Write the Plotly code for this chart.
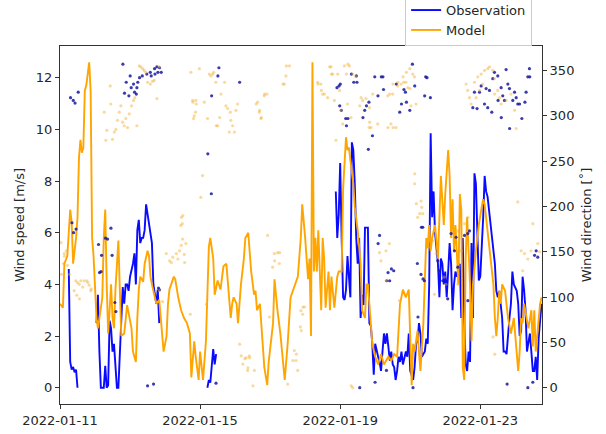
import pandas as pd
import plotly.graph_objects as go

START = pd.Timestamp("2022-01-11 00:00")

# Model wind speed [m/s] (hours since start, value)
model_hours = [0, 2, 3, 5, 7, 8, 9, 10, 11, 12, 13, 14, 15, 16, 17, 18, 19, 20, 21, 22, 23, 24, 25, 26, 28, 29, 30, 31, 32, 33, 34, 35, 36, 37, 38, 39, 40, 41, 42, 44, 45, 46, 47, 49, 50, 52, 53, 54, 55, 57, 58, 60, 61, 62, 63, 65, 66, 68, 69, 70, 71, 73, 74, 75, 76, 78, 79, 81, 83, 85, 87, 89, 90, 92, 93, 95, 96, 98, 100, 102, 103, 105, 106, 108, 110, 112, 114, 115, 117, 118, 119, 121, 122, 124, 126, 127, 129, 131, 133, 134, 135, 137, 138, 140, 142, 143, 146, 147, 149, 151, 154, 156, 158, 161, 163, 165, 166, 168, 170, 171, 172, 173, 174, 175, 176, 177, 178, 179, 180, 181, 182, 184, 185, 186, 188, 190, 191, 193, 194, 196, 197, 198, 199, 201, 202, 204, 206, 207, 209, 210, 211, 213, 214, 216, 218, 220, 222, 225, 227, 229, 231, 233, 235, 237, 239, 241, 242, 243, 245, 246, 247, 249, 250, 251, 252, 253, 254, 255, 257, 258, 259, 261, 262, 263, 264, 266, 267, 268, 269, 270, 271, 273, 274, 275, 276, 277, 278, 279, 281, 282, 283, 284, 285, 286, 287, 289, 290, 291, 292, 293, 294, 295, 297, 298, 299, 300, 301, 302, 303, 305, 306, 307, 309, 311, 314, 315, 316, 317, 318, 321, 323, 324, 325, 326, 327, 329, 330]
model_speed = [3.25, 3.1, 4.8, 5.1, 6.9, 6.4, 4.8, 5.3, 5.8, 6.6, 8.9, 9.6, 9.1, 9.3, 11.5, 11.7, 12.3, 12.6, 11.5, 5.8, 5.1, 4.0, 2.7, 2.3, 3.2, 3.5, 5.8, 6.9, 4.0, 2.1, 3.0, 4.0, 2.7, 2.3, 3.8, 5.0, 5.7, 3.8, 2.0, 2.1, 2.7, 3.2, 2.9, 2.3, 1.4, 1.0, 2.7, 3.8, 4.3, 4.1, 4.8, 5.3, 5.1, 4.3, 4.0, 3.5, 3.25, 3.4, 2.7, 2.0, 1.4, 2.0, 3.25, 3.8, 4.0, 4.3, 4.2, 3.5, 3.0, 2.7, 2.5, 2.1, 0.4, 1.8, 1.2, 0.3, 1.4, 0.3, 1.8, 5.45, 5.8, 5.0, 3.6, 4.15, 3.8, 4.7, 4.8, 4.0, 2.7, 3.25, 3.5, 3.25, 2.5, 4.0, 5.0, 5.8, 6.0, 4.5, 3.6, 3.75, 3.0, 3.25, 2.3, 0.8, 0.1, 1.0, 2.5, 4.2, 3.0, 2.1, 0.3, 1.7, 3.5, 4.0, 4.3, 5.8, 7.1, 5.8, 4.2, 5.0, 2.0, 12.6, 4.5, 5.8, 4.5, 6.1, 4.3, 3.0, 5.8, 5.0, 3.1, 4.5, 3.0, 4.3, 3.1, 4.3, 4.5, 4.5, 7.7, 9.7, 9.2, 9.3, 8.8, 7.9, 7.0, 6.1, 4.8, 3.0, 2.7, 4.0, 4.0, 2.5, 1.7, 1.2, 0.9, 1.3, 0.9, 1.2, 1.05, 1.3, 1.2, 3.25, 3.8, 3.5, 3.8, 0.1, 1.7, 1.4, 2.2, 1.4, 0.65, 2.5, 4.7, 5.8, 5.4, 6.3, 5.3, 5.8, 6.3, 5.6, 5.0, 8.2, 7.3, 6.3, 7.5, 9.2, 8.2, 5.8, 7.3, 5.3, 6.3, 4.0, 7.5, 6.9, 0.8, 0.3, 5.0, 6.6, 4.0, 1.8, 4.0, 4.8, 5.3, 5.8, 6.3, 7.0, 7.3, 7.1, 6.6, 6.1, 5.6, 5.0, 4.0, 2.7, 2.0, 2.7, 3.75, 3.25, 4.0, 3.75, 3.25, 2.7, 2.1, 2.7, 0.65, 1.4, 2.7, 2.5, 3.25, 2.3, 3.0, 1.6, 3.0, 1.4, 2.0, 3.25, 3.5]

# Observed wind speed [m/s] (None = missing data)
obs_hours = [6, 7, 8, 9, 10, 11, 12, 13,
             25, 26, 27, 28, 29, 30, 31, 32, 33, 34, 35, 36, 37, 38, 39, 40, 41, 42, 43, 44, 45, 46, 47, 48, 49, 50, 51, 52, 53, 54, 55, 56, 57, 58, 59, 60, 61, 62, 63, 64, 65, 66, 67, 68, 69,
             101, 102, 103, 104, 105, 106, 107, 108,
             189, 190, 191, 192, 193, 194, 195, 196, 197, 198, 199, 200, 201, 202, 203, 204, 205, 206, 207, 208, 209, 210, 211, 212, 213, 214, 215, 216, 217, 218, 219, 220, 221, 222, 223, 224, 225, 226, 227, 228, 229, 230, 231, 232, 233, 234, 235, 236, 237, 238, 239, 240, 241, 242, 243, 244, 245, 246, 247, 248, 249, 250, 251, 252, 253, 254, 255, 256, 257, 258, 259, 260, 261, 262, 263, 264, 265, 266, 267, 268, 269, 270, 271, 272, 273, 274, 275, 276, 277, 278, 279, 280, 281, 282, 283, 284, 285, 286, 287, 288, 289, 290, 291, 292, 293, 294, 295, 296, 297, 298, 299, 300, 301, 302, 303, 304, 305, 306, 307, 308, 309, 310, 311, 312, 313, 314, 315, 316, 317, 318, 319, 320, 321, 322, 323, 324, 325, 326, 327, 328, 329, 330]
obs_speed = [4.6, 1.0, 0.7, 0.8, 0.6, 0.7, 0.0, None,
             2.5, 3.6, 1.4, 0, 0, 0, 0.85, 0, 0.1, 2.6, 2.3, 1.4, 1.7, 0.8, 0, 0, 1.4, 3.0, 3.9, 3.25, 4.0, 4.0, 3.75, 4.3, 4.5, 4.8, 5.2, 4.0, 6.1, 6.5, 5.6, 5.8, 5.8, 6.1, 7.1, 6.7, 6.2, 6.0, 5.6, 4.0, 3.6, 3.25, 3.8, 2.5, None,
             0, 0.3, 0.2, 0.8, 1.5, 0.9, 1.3, None,
             7.6, 5.8, 6.7, 8.7, 5.8, 3.5, 3.4, 3.8, 5.1, 4.2, 3.5, 9.5, 9.2, 7.9, 5.8, 4.8, 5.8, 2.7, 3.6, 3.2, 6.2, 6.2, 6.2, 2.5, 2.4, 1.7, 0.5, 1.7, 1.4, 1.2, 1.0, 0.65, 1.4, 2.1, 1.7, 2.1, 1.6, 1.05, 1.4, 0.9, 0.8, 0.3, 0.65, 1.2, 1.0, 1.4, 0.9, 1.2, 1.4, 1.2, 2.1, 0.65, 0.5, 0.3, 0.8, 1.7, 1.8, 2.5, 2.1, 1.2, 1.3, 1.4, 1.9, 1.7, 4.0, 9.85, 6.6, 7.6, 6.0, 5.3, 4.8, 3.5, 5.0, 4.8, 4.0, 4.5, 3.5, 4.5, 5.6, 4.8, 3.0, 4.0, 4.5, 4.3, 4.5, 4.8, 2.7, 5.8, 2.7, 0.9, 0.65, 1.4, 1.0, 5.6, 2.7, 8.3, 7.9, 5.8, 4.15, 4.3, 5.3, 6.6, 8.2, 7.6, 7.4, 6.9, 6.2, 5.8, 5.3, 4.8, 3.75, 3.5, 3.75, 3.25, 2.7, 1.4, 1.4, 1.3, 2.2, 2.7, 3.25, 4.5, 4.0, 3.9, 3.75, 3.25, 2.0, 2.2, 4.3, 3.8, 3.0, 1.4, 1.8, 2.1, 1.4, 0.65, 0.65, 1.2, 0.3, 1.9, 2.6, 3.25]

# Observed wind direction [deg]
obs_dir_hours = [7.2, 8.2, 9.1, 9.3, 10.3, 11.0, 12.5,
                 43.1, 44.2, 45.4, 47.2, 48.1, 48.8, 50.4, 51.1, 52.3, 52.7, 53.3, 54.5, 56.4, 59.5, 61.9, 62.5, 64.8, 65.1, 66.4, 67.1, 68.2, 69.4,
                 26.4, 27.1, 28.1, 28.5, 31.2, 32.6, 34.9, 35.7, 37.6, 38.3, 60.0, 64.1, 67.5, 68.2,
                 101.3, 103.7, 103.9, 106.9, 108.2, 108.9, 123.1,
                 189.8, 191.2, 191.7, 192.1, 192.8, 195.8, 196.3, 197.3, 199.7, 201.3, 203.1, 203.5, 207.6, 208.8, 210.0, 211.3, 211.7, 214.1, 215.7, 217.9, 220.2, 221.3, 221.7, 230.5, 232.8, 234.0, 235.7, 236.7, 237.4, 239.7, 241.5, 243.1, 249.9, 250.6, 251.5, 253.8,
                 205.4, 215.9, 218.0, 219.0, 223.7, 223.9, 224.8, 225.9, 227.1, 228.7, 241.9, 244.9, 245.3, 247.7, 248.8,
                 282.9, 284.0, 285.8, 287.5, 288.6, 290.9, 292.0, 293.1, 294.3, 295.9, 296.6, 297.7, 300.0, 300.2, 302.3, 302.4, 303.4, 304.6, 305.7, 306.9, 308.0, 308.1, 310.3, 311.5, 312.6, 313.7, 314.9, 316.5, 318.6, 319.4, 320.6, 321.7, 321.9,
                 247.4, 248.6, 249.7, 258.9, 260.0, 262.3, 265.7, 268.0, 270.3, 271.4, 272.6, 277.2, 279.4, 279.5, 280.6, 306.4, 320.6, 324.0, 325.2, 326.3, 327.4]
obs_dir = [320, 182, 317, 171, 314, 175, 326,
           357, 325, 337, 322, 344, 331, 335, 326, 324, 331, 337, 342, 344, 346, 348, 344, 352, 346, 354, 348, 353, 348,
           158, 127, 128, 146, 165, 164, 176, 146, 94, 84, 2, 4, 110, 108,
           258, 214, 322, 5, 344, 353, 337,
           331, 333, 311, 335, 306, 297, 289, 297, 346, 337, 344, 337, 298, 306, 311, 263, 315, 278, 343, 322, 343, 343, 329, 335, 304, 313, 329, 326, 315, 306, 357, 333, 322, 343, 342, 320,
           0, 6, 159, 168, 19, 118, 127, 118, 131, 129, 0, 137, 78, 177, 120,
           309, 326, 308, 326, 333, 313, 330, 309, 328, 304, 341, 348, 344, 317, 331, 298, 322, 317, 351, 335, 330, 286, 317, 326, 320, 313, 313, 297, 315, 326, 343, 352, 343,
           125, 177, 118, 140, 129, 118, 98, 170, 151, 166, 133, 168, 170, 96, 173, 4, 0, 6, 146, 151, 144]

# Model wind direction [deg]
model_dir_hours = [0.7, 1.0, 2.4, 2.9, 3.1, 4.3, 5.1, 6.5, 9.7, 10.8, 11.5, 12.0, 13.2, 13.3, 14.3, 15.6, 16.6, 18.4, 19.1, 20.0, 21.1, 21.4,
                   30.3, 31.4, 32.1, 34.4, 34.8, 36.0, 37.2, 38.3, 39.4, 40.6, 41.7, 42.9, 44.0, 45.1, 46.3, 47.5, 49.0, 50.4, 51.3, 52.7, 54.3, 55.4, 56.6, 57.7, 58.8, 60.0, 61.9, 63.4, 64.6, 66.4, 68.0,
                   68.2, 70.3, 72.8, 75.1, 76.3, 77.3, 79.7, 80.8, 81.9, 82.8, 83.1, 83.3, 83.8, 84.0, 84.2, 85.2, 85.4, 86.3, 89.3, 89.7, 90.9, 91.1, 91.5, 92.0, 92.9, 93.1, 93.4, 95.5,
                   96.5, 97.7, 98.9, 100.3, 101.1, 102.3, 103.4, 104.6, 105.3, 106.8, 107.1, 108.0, 109.4, 110.3, 112.8, 113.7, 114.9, 116.0, 116.7, 117.1, 118.3, 119.5, 120.6, 121.7,
                   123.1, 124.2, 125.3, 126.7, 127.6, 128.6, 128.8, 129.7, 129.9, 132.2, 133.2, 134.5, 135.4, 136.6, 136.8, 137.7, 138.0, 140.0, 140.2, 141.8, 142.3, 143.5, 145.7, 146.9, 147.1, 149.1, 150.3, 150.5, 152.8, 153.7, 154.8, 155.1, 156.0, 157.2, 159.6, 160.6, 161.7, 162.0, 162.9, 165.1, 165.3, 166.5,
                   164.7, 166.3, 167.5, 172.0, 176.6, 176.8, 178.8, 179.1, 180.0, 181.2, 183.4, 184.8, 185.7, 186.0, 186.9, 188.0, 189.1, 190.3, 191.6, 192.5, 193.7, 194.9, 196.3, 197.1, 197.3, 198.3, 199.4, 199.5, 200.6, 200.7, 202.8, 205.4, 206.3, 207.4, 209.7, 211.8, 212.0, 212.2, 213.1, 214.3, 217.7, 218.9, 220.0, 223.4, 223.5, 224.6, 224.7, 225.7, 225.9, 226.8, 228.0, 228.2, 228.3, 230.3, 231.4, 231.6, 232.6, 233.7, 235.1, 235.5, 237.1, 237.4, 238.3, 239.7, 239.8, 240.5, 241.7, 242.9, 243.0, 243.1, 244.0, 244.2, 245.1, 246.5, 247.4, 247.9, 248.6,
                   253.2, 255.4, 256.6, 257.7, 263.4, 264.5, 272.6, 272.7, 274.8, 277.2, 278.3, 279.4, 279.5, 280.6, 281.7, 284.0, 285.1, 286.3, 287.5, 288.6, 289.7, 290.9, 293.1, 294.3, 296.6, 296.7, 297.7, 297.8, 297.9, 300.0, 301.2, 302.3, 305.7, 309.1, 311.5, 312.6, 313.7, 316.0, 317.1, 318.3, 320.6, 322.8, 324.0, 327.4, 328.6]
model_dir = [160, 125, 137, 148, 145, 151, 135, 125, 107, 118, 102, 116, 114, 98, 118, 111, 118, 118, 116, 113, 107, 109,
             304, 273, 284, 333, 313, 274, 282, 285, 295, 304, 311, 293, 289, 297, 287, 302, 311, 317, 320, 289, 355, 354, 352, 350, 348, 337, 335, 338, 339, 319, 354,
             107, 95, 148, 140, 138, 144, 148, 142, 151, 179, 157, 188, 181, 164, 190, 147, 138, 159, 81, 348, 317, 315, 297, 300, 304, 317, 313, 352,
             210, 234, 315, 92, 297, 346, 344, 346, 348, 337, 289, 289, 298, 324, 337, 311, 308, 282, 304, 295, 289, 282, 306, 313,
             48, 35, 26, 32, 33, 19, 22, 35, 33, 2, 19, 313, 315, 304, 306, 297, 298, 322, 324, 324, 168, 78, 133, 148, 140, 149, 137, 149, 335, 335, 344, 355, 4, 355, 30, 41, 30, 37, 19, 85, 63, 89,
             67, 81, 89, 107, 337, 335, 335, 328, 324, 324, 320, 354, 354, 346, 346, 317, 273, 346, 328, 306, 291, 355, 346, 313, 357, 355, 298, 2, 0, 346, 343, 311, 320, 317, 319, 287, 309, 293, 287, 324, 291, 149, 140, 151, 118, 322, 287, 159, 324, 291, 324, 335, 287, 287, 333, 337, 96, 335, 343, 337, 337, 348, 331, 352, 330, 311, 346, 343, 225, 236, 313, 203, 188, 192, 206, 199, 192,
             155, 162, 103, 148, 122, 114, 173, 114, 151, 181, 335, 328, 188, 320, 313, 337, 320, 343, 328, 346, 335, 350, 352, 354, 350, 56, 341, 324, 37, 328, 320, 313, 317, 324, 306, 286, 205, 151, 129, 148, 142, 151, 181, 159, 150]

date_ticks = ["2022-01-11", "2022-01-15", "2022-01-19", "2022-01-23"]
speed_ticks = [0, 2, 4, 6, 8, 10, 12]
dir_ticks = [0, 50, 100, 150, 200, 250, 300, 350]


def to_time(hours):
    return [START + pd.Timedelta(hours=h) for h in hours]


FONT = "DejaVu Sans, Arial, sans-serif"
TXT = "#262626"

fig = go.Figure()
fig.add_trace(go.Scatter(x=to_time(obs_hours), y=obs_speed, mode="lines", name="Observation",
                         line=dict(color="#0a0aff", width=1.9), connectgaps=False))
fig.add_trace(go.Scatter(x=to_time(model_hours), y=model_speed, mode="lines", name="Model",
                         line=dict(color="#ffa500", width=1.9)))
fig.add_trace(go.Scatter(x=to_time(obs_dir_hours), y=obs_dir, mode="markers", yaxis="y2", showlegend=False,
                         marker=dict(color="rgba(25,25,160,0.85)", size=3.2)))
fig.add_trace(go.Scatter(x=to_time(model_dir_hours), y=model_dir, mode="markers", yaxis="y2", showlegend=False,
                         marker=dict(color="rgba(245,170,40,0.45)", size=3.2)))

axis_common = dict(showgrid=False, zeroline=False, showline=True, linecolor="#333333", linewidth=1,
                   ticks="outside", ticklen=4, tickcolor="#333333", automargin=False,
                   tickfont=dict(family=FONT, size=13, color=TXT))

fig.update_layout(
    width=606, height=434,
    margin=dict(l=60, r=64, t=46, b=30, autoexpand=False),
    paper_bgcolor="white", plot_bgcolor="white",
    font=dict(family=FONT, size=13, color=TXT),
    xaxis=dict(type="date", range=[START, START + pd.Timedelta(hours=330.3)],
               tickvals=date_ticks, ticktext=date_ticks, mirror=True, **axis_common),
    yaxis=dict(range=[-0.63, 13.23], tickvals=speed_ticks,
               title=dict(text="Wind speed [m/s]", font=dict(family=FONT, size=13, color=TXT), standoff=8),
               **axis_common),
    yaxis2=dict(range=[-18, 377], tickvals=dir_ticks, overlaying="y", side="right",
                title=dict(text="Wind direction [˚]", font=dict(family=FONT, size=13, color=TXT), standoff=8),
                **axis_common),
    legend=dict(x=0.716, y=1.145, xanchor="left", yanchor="top", bgcolor="white",
                bordercolor="#cccccc", borderwidth=1, font=dict(family=FONT, size=13, color=TXT),
                tracegroupgap=0),
    showlegend=True,
)

fig.write_html("out.html", config={"displayModeBar": False},
               post_script="document.body.style.margin='0';document.body.style.overflow='hidden';")
